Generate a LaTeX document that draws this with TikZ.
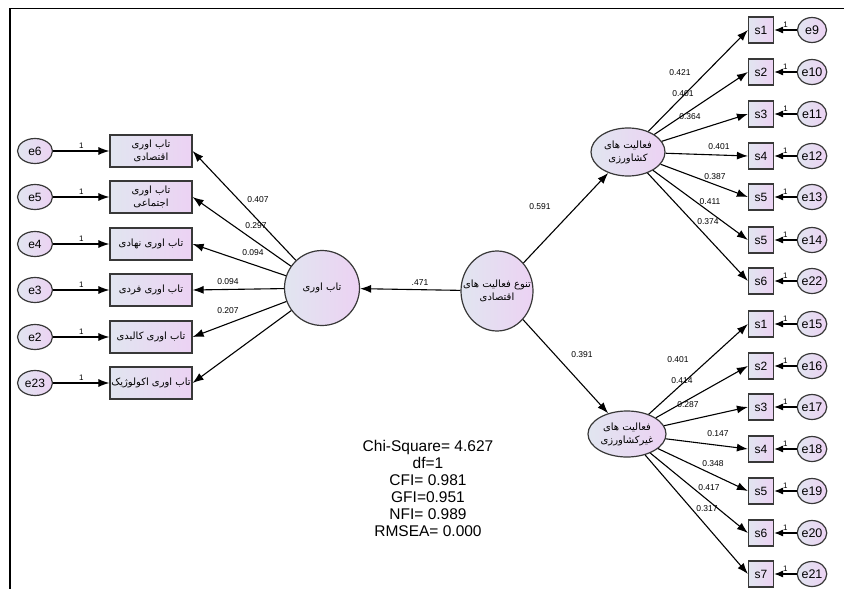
\documentclass[tikz,border=0pt]{standalone}
\usepackage{fontspec}
\setmainfont{Liberation Sans}
\newfontfamily\fa[Script=Arabic]{DejaVu Sans}
\TeXXeTstate=1
\usetikzlibrary{positioning,shapes.geometric,arrows.meta}
\definecolor{fondA}{HTML}{E1E5F0}
\definecolor{fondB}{HTML}{ECD2F3}
\definecolor{trait}{HTML}{383838}
\tikzstyle{remplir}=[draw=trait,line width=1.2pt,left color=fondA,right color=fondB]
\tikzstyle{boite}=[remplir,rectangle,minimum width=82pt,minimum height=32pt,inner sep=1pt,align=center,font=\fa\fontsize{10}{13}\selectfont]
\tikzstyle{erreur}=[remplir,ellipse,minimum width=35pt,minimum height=25pt,inner sep=0pt,font=\fontsize{12}{12}\selectfont]
\tikzstyle{carre}=[remplir,rectangle,minimum width=25pt,minimum height=26pt,inner sep=0pt,font=\fontsize{12}{12}\selectfont]
\tikzstyle{bulle}=[remplir,ellipse,minimum width=29pt,minimum height=25pt,inner sep=0pt,font=\fontsize{12.5}{12}\selectfont]
\tikzstyle{ovale}=[remplir,ellipse,inner xsep=-12pt,inner ysep=0pt,align=center,font=\fa\fontsize{10}{13}\selectfont]
\tikzstyle{fleche}=[-{Latex[length=11pt,width=8pt]},line width=1.1pt]
\tikzstyle{petite}=[-{Latex[length=9pt,width=7pt]},line width=1.1pt]
\tikzstyle{coef}=[font=\fontsize{8.5}{9}\selectfont,inner sep=0pt]
\tikzstyle{un}=[above,font=\fontsize{8}{9}\selectfont,inner sep=2pt]

\begin{document}
\begin{tikzpicture}[x=1pt,y=-1pt]
\useasboundingbox (0,0) rectangle (844,589);
\draw[line width=1.2pt] (10,589) -- (10,8.5) -- (844,8.5);

% partie gauche
\node[ovale,minimum width=75pt,minimum height=75pt] (res) at (322,288) {\beginR تاب اوری\endR};
\node[ovale,minimum width=72pt,minimum height=80pt] (div) at (497,291) {\beginR تنوع فعالیت های\endR\\\beginR اقتصادی\endR};

\node[boite] (b1) at (151,151) {\beginR تاب اوری\endR\\\beginR اقتصادی\endR};
\node[boite] (b2) at (151,197) {\beginR تاب اوری\endR\\\beginR اجتماعی\endR};
\node[boite] (b3) at (151,244) {\beginR تاب اوری نهادی\endR};
\node[boite] (b4) at (151,290) {\beginR تاب اوری فردی\endR};
\node[boite] (b5) at (151,337) {\beginR تاب اوری کالبدی\endR};
\node[boite] (b6) at (151,383) {\beginR تاب اوری اکولوژیک\endR};

\node[erreur] (e6) at (35,151) {e6};
\node[erreur] (e5) at (35,197) {e5};
\node[erreur] (e4) at (35,244) {e4};
\node[erreur] (e3) at (35,290) {e3};
\node[erreur] (e2) at (35,337) {e2};
\node[erreur] (e23) at (35,383) {e23};

\draw[fleche] (e6) -- node[un] (u6) {1} (b1);
\draw[fleche] (e5) -- node[un] (u5) {1} (b2);
\draw[fleche] (e4) -- node[un] (u4) {1} (b3);
\draw[fleche] (e3) -- node[un] (u3) {1} (b4);
\draw[fleche] (e2) -- node[un] (u2) {1} (b5);
\draw[fleche] (e23) -- node[un] (u23) {1} (b6);

\draw[fleche] (res) -- (b1.east);
\draw[fleche] (res) -- (b2.east);
\draw[fleche] (res) -- (b3.east);
\draw[fleche] (res) -- (b4.east);
\draw[fleche] (res) -- (b5.east);
\draw[fleche] (res) -- (b6.east);
\node[coef] (k1) at (258,200) {0.407};
\node[coef] (k2) at (256,226) {0.297};
\node[coef] (k3) at (253,253) {0.094};
\node[coef] (k4) at (228,282) {0.094};
\node[coef] (k5) at (228,311) {0.207};

\draw[fleche] (div) -- (res);
\node[coef] (k0) at (420,283) {.471};

% partie droite
\node[ovale,minimum width=74pt,minimum height=48pt] (agr) at (628,152) {\beginR فعالیت های\endR\\\beginR کشاورزی\endR};
\node[ovale,minimum width=78pt,minimum height=46pt] (nagr) at (627,434) {\beginR فعالیت های\endR\\\beginR غیرکشاورزی\endR};
\draw[fleche] (div) -- (agr);
\draw[fleche] (div) -- (nagr);
\node[coef] (m1) at (540,207) {0.591};
\node[coef] (m2) at (582,355) {0.391};

\node[carre] (s1) at (761,30) {s1};
\node[carre] (s2) at (761,72) {s2};
\node[carre] (s3) at (761,114) {s3};
\node[carre] (s4) at (761,156) {s4};
\node[carre] (s5) at (761,197) {s5};
\node[carre] (s5b) at (761,240) {s5};
\node[carre] (s6) at (761,281) {s6};
\node[bulle] (e9) at (812,30) {e9};
\node[bulle] (e10) at (812,72) {e10};
\node[bulle] (e11) at (812,114) {e11};
\node[bulle] (e12) at (812,156) {e12};
\node[bulle] (e13) at (812,197) {e13};
\node[bulle] (e14) at (812,240) {e14};
\node[bulle] (e22) at (812,281) {e22};

\draw[petite] (e9) -- node[un] (u9) {1} (s1);
\draw[petite] (e10) -- node[un] (u10) {1} (s2);
\draw[petite] (e11) -- node[un] (u11) {1} (s3);
\draw[petite] (e12) -- node[un] (u12) {1} (s4);
\draw[petite] (e13) -- node[un] (u13) {1} (s5);
\draw[petite] (e14) -- node[un] (u14) {1} (s5b);
\draw[petite] (e22) -- node[un] (u22) {1} (s6);

\draw[fleche] (agr) -- (s1.west);
\draw[fleche] (agr) -- (s2.west);
\draw[fleche] (agr) -- (s3.west);
\draw[fleche] (agr) -- (s4.west);
\draw[fleche] (agr) -- (s5.west);
\draw[fleche] (agr) -- (s5b.west);
\draw[fleche] (agr) -- (s6.west);
\node[coef] (a1) at (680,73) {0.421};
\node[coef] (a2) at (683,94) {0.401};
\node[coef] (a3) at (690,117) {0.364};
\node[coef] (a4) at (719,147) {0.401};
\node[coef] (a5) at (715,177) {0.387};
\node[coef] (a6) at (710,202) {0.411};
\node[coef] (a7) at (708,222) {0.374};

\node[carre] (t1) at (761,324) {s1};
\node[carre] (t2) at (761,366) {s2};
\node[carre] (t3) at (761,407) {s3};
\node[carre] (t4) at (761,449) {s4};
\node[carre] (t5) at (761,491) {s5};
\node[carre] (t6) at (761,533) {s6};
\node[carre] (t7) at (761,574) {s7};
\node[bulle] (e15) at (812,324) {e15};
\node[bulle] (e16) at (812,366) {e16};
\node[bulle] (e17) at (812,407) {e17};
\node[bulle] (e18) at (812,449) {e18};
\node[bulle] (e19) at (812,491) {e19};
\node[bulle] (e20) at (812,533) {e20};
\node[bulle] (e21) at (812,574) {e21};

\draw[petite] (e15) -- node[un] (u15) {1} (t1);
\draw[petite] (e16) -- node[un] (u16) {1} (t2);
\draw[petite] (e17) -- node[un] (u17) {1} (t3);
\draw[petite] (e18) -- node[un] (u18) {1} (t4);
\draw[petite] (e19) -- node[un] (u19) {1} (t5);
\draw[petite] (e20) -- node[un] (u20) {1} (t6);
\draw[petite] (e21) -- node[un] (u21) {1} (t7);

\draw[fleche] (nagr) -- (t1.west);
\draw[fleche] (nagr) -- (t2.west);
\draw[fleche] (nagr) -- (t3.west);
\draw[fleche] (nagr) -- (t4.west);
\draw[fleche] (nagr) -- (t5.west);
\draw[fleche] (nagr) -- (t6.west);
\draw[fleche] (nagr) -- (t7.west);
\node[coef] (n1) at (678,360) {0.401};
\node[coef] (n2) at (682,381) {0.414};
\node[coef] (n3) at (688,405) {0.287};
\node[coef] (n4) at (718,434) {0.147};
\node[coef] (n5) at (713,464) {0.348};
\node[coef] (n6) at (709,488) {0.417};
\node[coef] (n7) at (707,509) {0.317};

% indices
\node[align=center,font=\fontsize{15.5}{17}\selectfont] (fit) at (428,488) {Chi-Square= 4.627\\df=1\\CFI= 0.981\\GFI=0.951\\NFI= 0.989\\RMSEA= 0.000};

\end{tikzpicture}
\end{document}
